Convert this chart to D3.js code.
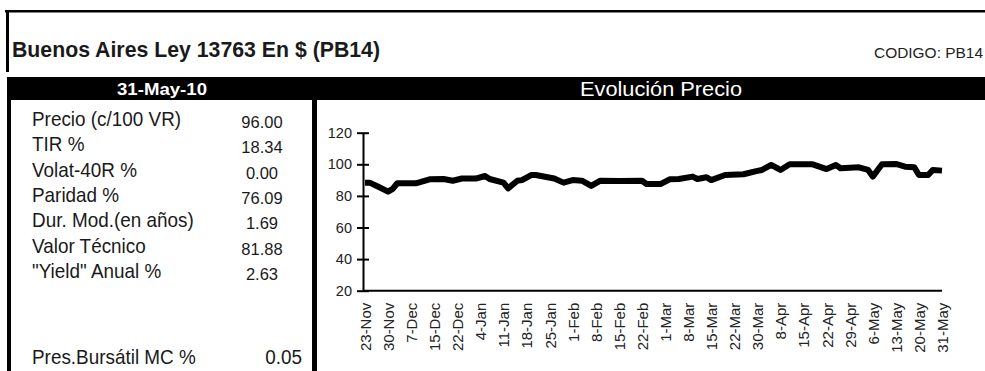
<!DOCTYPE html>
<html>
<head>
<meta charset="utf-8">
<script src="https://cdn.jsdelivr.net/npm/d3@7"></script>
<style>
  body { margin: 0; background: #fff; }
  svg text { font-family: "Liberation Sans", Arial, sans-serif; }
</style>
</head>
<body>
<div id="chart"></div>
<script>
"use strict"
// Header texts
var title = "Buenos Aires Ley 13763 En $ (PB14)"
var code = "CODIGO: PB14"
var dateLabel = "31-May-10"
var chartTitle = "Evolución Precio"

// Left panel rows
var rowLabels = ["Precio (c/100 VR)", "TIR %", "Volat-40R %", "Paridad %", "Dur. Mod.(en años)", "Valor Técnico", "\"Yield\" Anual %"]
var rowValues = ["96.00", "18.34", "0.00", "76.09", "1.69", "81.88", "2.63"]
var footLabel = "Pres.Bursátil MC %"
var footValue = "0.05"

// Price series: trading day index (0 = 23-Nov, 125 = 31-May) and price
var priceDays = [0, 1, 3, 5, 6, 7, 11, 14, 17, 19, 21, 24, 26, 27, 30, 31, 33, 34, 36, 37, 41, 43, 45, 47, 49, 51, 55, 60, 61, 64, 66, 68, 71, 72, 74, 75, 78, 82, 85, 86, 88, 90, 92, 97, 100, 102, 103, 107, 109, 110, 112, 115, 117, 119, 120, 122, 123, 125]
var priceValues = [88.4, 88.4, 85.6, 82.7, 84.4, 88.0, 88.0, 90.5, 90.7, 89.6, 91.0, 91.0, 92.6, 90.7, 88.4, 84.8, 89.6, 90.0, 93.2, 93.2, 91.0, 88.4, 90.0, 89.6, 86.3, 89.6, 89.4, 89.6, 87.5, 87.5, 90.5, 90.7, 92.2, 90.7, 91.8, 90.0, 93.2, 93.7, 95.8, 96.4, 99.6, 96.4, 100.0, 100.0, 97.0, 99.6, 97.5, 98.1, 96.4, 92.2, 100.0, 100.2, 98.5, 98.1, 93.2, 93.2, 96.4, 96.0]

// Category labels on the x axis (every 5 trading days)
var tickDays = [0, 5, 10, 15, 20, 25, 30, 35, 40, 45, 50, 55, 60, 65, 70, 75, 80, 85, 90, 95, 100, 105, 110, 115, 120, 125]
var tickLabels = ["23-Nov", "30-Nov", "7-Dec", "15-Dec", "22-Dec", "4-Jan", "11-Jan", "18-Jan", "25-Jan", "1-Feb", "8-Feb", "15-Feb", "22-Feb", "1-Mar", "8-Mar", "15-Mar", "22-Mar", "30-Mar", "8-Apr", "15-Apr", "22-Apr", "29-Apr", "6-May", "13-May", "20-May", "31-May"]
var yTicks = [20, 40, 60, 80, 100, 120]

var width = 985
var height = 371
var ink = "#1a1a1a"
var narrow = 0.9 // horizontal squeeze to mimic the narrow face

var svg = d3.select("#chart").append("svg")
    .attr("width", width)
    .attr("height", height)

// Frame and bands
svg.append("rect").attr("x", 5).attr("y", 10).attr("width", 980).attr("height", 2.5).attr("fill", "#000")
svg.append("rect").attr("x", 6).attr("y", 10).attr("width", 3).attr("height", 62).attr("fill", "#000")
svg.append("rect").attr("x", 7).attr("y", 77).attr("width", 978).attr("height", 23).attr("fill", "#000")
svg.append("rect").attr("x", 7).attr("y", 100).attr("width", 4).attr("height", 271).attr("fill", "#000")
svg.append("rect").attr("x", 312).attr("y", 100).attr("width", 5).attr("height", 271).attr("fill", "#000")

// Header texts (widths fitted to the reference)
svg.append("text")
    .attr("x", 12).attr("y", 57)
    .attr("textLength", 368).attr("lengthAdjust", "spacingAndGlyphs")
    .style("font-size", "21.5px").style("font-weight", "bold").attr("fill", ink)
    .text(title)

svg.append("text")
    .attr("x", 874).attr("y", 58)
    .attr("textLength", 109).attr("lengthAdjust", "spacingAndGlyphs")
    .style("font-size", "15px").attr("fill", "#222")
    .text(code)

svg.append("text")
    .attr("x", 117).attr("y", 95)
    .attr("textLength", 90).attr("lengthAdjust", "spacingAndGlyphs")
    .style("font-size", "17px").style("font-weight", "bold")
    .attr("fill", "#fff")
    .text(dateLabel)

svg.append("text")
    .attr("x", 580).attr("y", 96)
    .attr("textLength", 162).attr("lengthAdjust", "spacingAndGlyphs")
    .style("font-size", "21px")
    .attr("fill", "#fff")
    .text(chartTitle)

// Left panel
var rowY = d3.scaleLinear().domain([0, 1]).range([126, 151.3])

svg.selectAll(".rowLabel").data(rowLabels).enter().append("text")
    .attr("class", "rowLabel")
    .attr("transform", function (d, i) { return "translate(32," + rowY(i) + ") scale(" + narrow + ",1)" })
    .style("font-size", "21px").attr("fill", ink)
    .text(function (d) { return d })

svg.selectAll(".rowValue").data(rowValues).enter().append("text")
    .attr("class", "rowValue")
    .attr("x", 262)
    .attr("y", function (d, i) { return rowY(i) + 2 })
    .style("font-size", "16.5px").style("text-anchor", "middle").attr("fill", ink)
    .text(function (d) { return d })

svg.append("text")
    .attr("transform", "translate(32,364) scale(" + narrow + ",1)")
    .style("font-size", "21px").attr("fill", ink)
    .text(footLabel)

svg.append("text")
    .attr("transform", "translate(302,364) scale(" + narrow + ",1)")
    .style("font-size", "21px").style("text-anchor", "end").attr("fill", ink)
    .text(footValue)

// Price chart
var axisX = 363
var xScale = d3.scaleLinear().domain([0, 125]).range([365, 942])
var yScale = d3.scaleLinear().domain([20, 120]).range([290.7, 132.7])

var yAxis = d3.axisLeft(yScale).tickValues(yTicks).tickSize(6).tickPadding(5).tickSizeOuter(0)
var gy = svg.append("g")
    .attr("class", "y axis")
    .attr("transform", "translate(" + axisX + ",0)")
    .call(yAxis)
gy.attr("font-family", null)
gy.select(".domain").attr("stroke-width", 2)
gy.selectAll(".tick line").attr("x1", -6).attr("x2", 6).attr("stroke-width", 2)
gy.selectAll(".tick text").style("font-size", "14.5px").attr("fill", "#222")

var xAxis = d3.axisBottom(xScale).tickValues(tickDays)
    .tickFormat(function (d, i) { return tickLabels[i] })
    .tickSize(0)
var gx = svg.append("g")
    .attr("class", "x axis")
    .attr("transform", "translate(0," + yScale(20) + ")")
    .call(xAxis)
gx.attr("font-family", null)
gx.select(".domain").remove()
gx.selectAll(".tick text")
    .attr("transform", "rotate(-90)")
    .attr("x", -12).attr("y", 0).attr("dy", "0.36em")
    .style("text-anchor", "end").style("font-size", "15px").attr("fill", "#222")

svg.append("line")
    .attr("x1", axisX).attr("x2", xScale(125))
    .attr("y1", yScale(20)).attr("y2", yScale(20))
    .attr("stroke", "#000").attr("stroke-width", 2)

var line = d3.line()
    .x(function (d, i) { return xScale(priceDays[i]) })
    .y(function (d) { return yScale(d) })

svg.append("path")
    .datum(priceValues)
    .attr("fill", "none")
    .attr("stroke", "#000")
    .attr("stroke-width", 6)
    .attr("stroke-linejoin", "round")
    .attr("stroke-linecap", "butt")
    .attr("d", line)
</script>
</body>
</html>
